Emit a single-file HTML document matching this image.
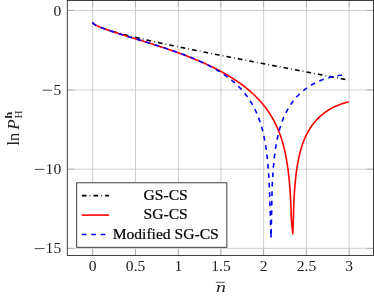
<!DOCTYPE html>
<html><head><meta charset="utf-8"><title>plot</title>
<style>
html,body{margin:0;padding:0;background:#fff;}
body{width:374px;height:297px;overflow:hidden;font-family:"Liberation Serif",serif;}
svg{display:block;filter:blur(0.35px);}
</style></head><body>
<svg width="374" height="297" viewBox="0 0 374 297">
<rect x="0" y="0" width="374" height="297" fill="#fff"/>
<g>
<g stroke="#c6c6c6" stroke-width="0.85" fill="none">
<line x1="92.65" y1="0.5" x2="92.65" y2="255.4"/>
<line x1="135.50" y1="0.5" x2="135.50" y2="255.4"/>
<line x1="178.35" y1="0.5" x2="178.35" y2="255.4"/>
<line x1="220.90" y1="0.5" x2="220.90" y2="255.4"/>
<line x1="263.60" y1="0.5" x2="263.60" y2="255.4"/>
<line x1="306.40" y1="0.5" x2="306.40" y2="255.4"/>
<line x1="349.10" y1="0.5" x2="349.10" y2="255.4"/>
<line x1="67.3" y1="10.46" x2="373.4" y2="10.46"/>
<line x1="67.3" y1="89.95" x2="373.4" y2="89.95"/>
<line x1="67.3" y1="169.15" x2="373.4" y2="169.15"/>
<line x1="67.3" y1="248.35" x2="373.4" y2="248.35"/>
</g>
<g stroke="#8c8c8c" stroke-width="0.5" fill="none">
<line x1="92.65" y1="255.4" x2="92.65" y2="248.70000000000002"/>
<line x1="92.65" y1="0.5" x2="92.65" y2="7.2"/>
<line x1="135.50" y1="255.4" x2="135.50" y2="248.70000000000002"/>
<line x1="135.50" y1="0.5" x2="135.50" y2="7.2"/>
<line x1="178.35" y1="255.4" x2="178.35" y2="248.70000000000002"/>
<line x1="178.35" y1="0.5" x2="178.35" y2="7.2"/>
<line x1="220.90" y1="255.4" x2="220.90" y2="248.70000000000002"/>
<line x1="220.90" y1="0.5" x2="220.90" y2="7.2"/>
<line x1="263.60" y1="255.4" x2="263.60" y2="248.70000000000002"/>
<line x1="263.60" y1="0.5" x2="263.60" y2="7.2"/>
<line x1="306.40" y1="255.4" x2="306.40" y2="248.70000000000002"/>
<line x1="306.40" y1="0.5" x2="306.40" y2="7.2"/>
<line x1="349.10" y1="255.4" x2="349.10" y2="248.70000000000002"/>
<line x1="349.10" y1="0.5" x2="349.10" y2="7.2"/>
<line x1="67.3" y1="10.46" x2="74.0" y2="10.46"/>
<line x1="373.4" y1="10.46" x2="366.7" y2="10.46"/>
<line x1="67.3" y1="89.95" x2="74.0" y2="89.95"/>
<line x1="373.4" y1="89.95" x2="366.7" y2="89.95"/>
<line x1="67.3" y1="169.15" x2="74.0" y2="169.15"/>
<line x1="373.4" y1="169.15" x2="366.7" y2="169.15"/>
<line x1="67.3" y1="248.35" x2="74.0" y2="248.35"/>
<line x1="373.4" y1="248.35" x2="366.7" y2="248.35"/>
</g>
<path d="M92.65,22.04 L92.91,22.87 L93.16,23.23 L93.42,23.52 L93.68,23.76 L93.93,23.98 L94.19,24.18 L94.45,24.36 L94.70,24.54 L94.96,24.71 L95.21,24.87 L95.47,25.02 L95.73,25.17 L95.98,25.31 L96.24,25.45 L96.50,25.58 L96.75,25.71 L97.01,25.84 L97.27,25.97 L97.52,26.09 L97.78,26.21 L98.04,26.33 L98.29,26.44 L98.55,26.55 L98.80,26.67 L99.06,26.78 L99.32,26.89 L99.57,26.99 L99.83,27.10 L100.09,27.20 L100.34,27.31 L100.60,27.41 L100.86,27.51 L101.11,27.61 L101.37,27.71 L101.63,27.80 L101.88,27.90 L102.14,28.00 L102.39,28.09 L102.65,28.19 L102.91,28.28 L103.16,28.37 L103.42,28.46 L103.68,28.55 L103.93,28.64 L104.19,28.73 L104.45,28.82 L104.70,28.91 L104.96,29.00 L105.22,29.09 L105.47,29.17 L105.73,29.26 L105.98,29.34 L106.24,29.43 L106.50,29.51 L106.75,29.60 L107.01,29.68 L107.27,29.76 L107.52,29.84 L107.78,29.93 L108.04,30.01 L108.29,30.09 L108.55,30.17 L108.81,30.25 L109.06,30.33 L109.32,30.41 L109.58,30.49 L109.83,30.57 L110.09,30.65 L110.34,30.72 L110.60,30.80 L110.86,30.88 L111.11,30.96 L111.37,31.03 L111.63,31.11 L111.88,31.19 L112.14,31.26 L112.40,31.34 L112.65,31.41 L112.91,31.49 L113.17,31.56 L113.42,31.64 L113.68,31.71 L113.93,31.78 L114.19,31.86 L114.45,31.93 L114.70,32.00 L114.96,32.08 L115.22,32.15 L115.47,32.22 L115.73,32.29 L115.99,32.37 L116.24,32.44 L116.50,32.51 L116.76,32.58 L117.01,32.65 L117.27,32.72 L117.52,32.79 L117.78,32.86 L118.04,32.93 L118.29,33.00 L118.55,33.07 L118.81,33.14 L119.06,33.21 L119.32,33.28 L119.58,33.35 L119.83,33.42 L120.09,33.49 L120.35,33.56 L120.60,33.62 L120.86,33.69 L121.11,33.76 L121.37,33.83 L121.63,33.90 L121.88,33.96 L122.14,34.03 L122.40,34.10 L122.65,34.16 L122.91,34.23 L123.17,34.30 L123.42,34.37 L123.68,34.43 L123.94,34.50 L124.19,34.56 L124.45,34.63 L124.71,34.70 L124.96,34.76 L125.22,34.83 L125.47,34.89 L125.73,34.96 L125.99,35.02 L126.24,35.09 L126.50,35.15 L126.76,35.22 L127.01,35.28 L127.27,35.35 L127.53,35.41 L127.78,35.48 L128.04,35.54 L128.30,35.60 L128.55,35.67 L128.81,35.73 L129.06,35.80 L129.32,35.86 L129.58,35.92 L129.83,35.99 L130.09,36.05 L130.35,36.11 L130.60,36.18 L130.86,36.24 L131.12,36.30 L131.37,36.37 L131.63,36.43 L131.89,36.49 L132.14,36.55 L132.40,36.62 L132.65,36.68 L132.91,36.74 L133.17,36.80 L133.42,36.86 L133.68,36.93 L133.94,36.99 L134.19,37.05 L134.45,37.11 L134.71,37.17 L134.96,37.23 L135.22,37.30 L135.48,37.36 L135.73,37.42 L135.99,37.48 L136.24,37.54 L136.50,37.60 L136.76,37.66 L137.01,37.72 L137.27,37.78 L137.53,37.85 L137.78,37.91 L138.04,37.97 L138.30,38.03 L138.55,38.09 L138.81,38.15 L139.07,38.21 L139.32,38.27 L139.58,38.33 L139.83,38.39 L140.09,38.45 L140.35,38.51 L140.60,38.57 L140.86,38.63 L141.12,38.69 L141.37,38.75 L141.63,38.81 L141.89,38.86 L142.14,38.92 L142.40,38.98 L142.66,39.04 L142.91,39.10 L143.17,39.16 L143.43,39.22 L143.68,39.28 L143.94,39.34 L144.19,39.40 L144.45,39.45 L144.71,39.51 L144.96,39.57 L145.22,39.63 L145.48,39.69 L145.73,39.75 L145.99,39.81 L146.25,39.86 L146.50,39.92 L146.76,39.98 L147.02,40.04 L147.27,40.10 L147.53,40.15 L147.78,40.21 L148.04,40.27 L148.30,40.33 L148.55,40.39 L148.81,40.44 L149.07,40.50 L149.32,40.56 L149.58,40.62 L149.84,40.67 L150.09,40.73 L150.35,40.79 L150.61,40.85 L150.86,40.90 L151.12,40.96 L151.37,41.02 L151.63,41.07 L151.89,41.13 L152.14,41.19 L152.40,41.25 L152.66,41.30 L152.91,41.36 L153.17,41.42 L153.43,41.47 L153.68,41.53 L153.94,41.59 L154.20,41.64 L154.45,41.70 L154.71,41.76 L154.96,41.81 L155.22,41.87 L155.48,41.93 L155.73,41.98 L155.99,42.04 L156.25,42.09 L156.50,42.15 L156.76,42.21 L157.02,42.26 L157.27,42.32 L157.53,42.38 L157.79,42.43 L158.04,42.49 L158.30,42.54 L158.56,42.60 L158.81,42.66 L159.07,42.71 L159.32,42.77 L159.58,42.82 L159.84,42.88 L160.09,42.93 L160.35,42.99 L160.61,43.04 L160.86,43.10 L161.12,43.16 L161.38,43.21 L161.63,43.27 L161.89,43.32 L162.15,43.38 L162.40,43.43 L162.66,43.49 L162.91,43.54 L163.17,43.60 L163.43,43.65 L163.68,43.71 L163.94,43.76 L164.20,43.82 L164.45,43.87 L164.71,43.93 L164.97,43.98 L165.22,44.04 L165.48,44.09 L165.74,44.15 L165.99,44.20 L166.25,44.26 L166.50,44.31 L166.76,44.37 L167.02,44.42 L167.27,44.48 L167.53,44.53 L167.79,44.59 L168.04,44.64 L168.30,44.69 L168.56,44.75 L168.81,44.80 L169.07,44.86 L169.33,44.91 L169.58,44.97 L169.84,45.02 L170.09,45.07 L170.35,45.13 L170.61,45.18 L170.86,45.24 L171.12,45.29 L171.38,45.35 L171.63,45.40 L171.89,45.45 L172.15,45.51 L172.40,45.56 L172.66,45.62 L172.92,45.67 L173.17,45.72 L173.43,45.78 L173.69,45.83 L173.94,45.88 L174.20,45.94 L174.45,45.99 L174.71,46.05 L174.97,46.10 L175.22,46.15 L175.48,46.21 L175.74,46.26 L175.99,46.31 L176.25,46.37 L176.51,46.42 L176.76,46.47 L177.02,46.53 L177.28,46.58 L177.53,46.64 L177.79,46.69 L178.04,46.74 L178.30,46.80 L178.56,46.85 L178.81,46.90 L179.07,46.96 L179.33,47.01 L179.58,47.06 L179.84,47.11 L180.10,47.17 L180.35,47.22 L180.61,47.27 L180.87,47.33 L181.12,47.38 L181.38,47.43 L181.63,47.49 L181.89,47.54 L182.15,47.59 L182.40,47.65 L182.66,47.70 L182.92,47.75 L183.17,47.80 L183.43,47.86 L183.69,47.91 L183.94,47.96 L184.20,48.02 L184.46,48.07 L184.71,48.12 L184.97,48.17 L185.22,48.23 L185.48,48.28 L185.74,48.33 L185.99,48.38 L186.25,48.44 L186.51,48.49 L186.76,48.54 L187.02,48.59 L187.28,48.65 L187.53,48.70 L187.79,48.75 L188.05,48.80 L188.30,48.86 L188.56,48.91 L188.81,48.96 L189.07,49.01 L189.33,49.07 L189.58,49.12 L189.84,49.17 L190.10,49.22 L190.35,49.28 L190.61,49.33 L190.87,49.38 L191.12,49.43 L191.38,49.48 L191.64,49.54 L191.89,49.59 L192.15,49.64 L192.41,49.69 L192.66,49.75 L192.92,49.80 L193.17,49.85 L193.43,49.90 L193.69,49.95 L193.94,50.01 L194.20,50.06 L194.46,50.11 L194.71,50.16 L194.97,50.21 L195.23,50.27 L195.48,50.32 L195.74,50.37 L196.00,50.42 L196.25,50.47 L196.51,50.53 L196.76,50.58 L197.02,50.63 L197.28,50.68 L197.53,50.73 L197.79,50.78 L198.05,50.84 L198.30,50.89 L198.56,50.94 L198.82,50.99 L199.07,51.04 L199.33,51.09 L199.59,51.15 L199.84,51.20 L200.10,51.25 L200.35,51.30 L200.61,51.35 L200.87,51.40 L201.12,51.46 L201.38,51.51 L201.64,51.56 L201.89,51.61 L202.15,51.66 L202.41,51.71 L202.66,51.76 L202.92,51.82 L203.18,51.87 L203.43,51.92 L203.69,51.97 L203.94,52.02 L204.20,52.07 L204.46,52.12 L204.71,52.18 L204.97,52.23 L205.23,52.28 L205.48,52.33 L205.74,52.38 L206.00,52.43 L206.25,52.48 L206.51,52.53 L206.77,52.59 L207.02,52.64 L207.28,52.69 L207.54,52.74 L207.79,52.79 L208.05,52.84 L208.30,52.89 L208.56,52.94 L208.82,53.00 L209.07,53.05 L209.33,53.10 L209.59,53.15 L209.84,53.20 L210.10,53.25 L210.36,53.30 L210.61,53.35 L210.87,53.40 L211.13,53.45 L211.38,53.51 L211.64,53.56 L211.89,53.61 L212.15,53.66 L212.41,53.71 L212.66,53.76 L212.92,53.81 L213.18,53.86 L213.43,53.91 L213.69,53.96 L213.95,54.01 L214.20,54.07 L214.46,54.12 L214.72,54.17 L214.97,54.22 L215.23,54.27 L215.48,54.32 L215.74,54.37 L216.00,54.42 L216.25,54.47 L216.51,54.52 L216.77,54.57 L217.02,54.62 L217.28,54.68 L217.54,54.73 L217.79,54.78 L218.05,54.83 L218.31,54.88 L218.56,54.93 L218.82,54.98 L219.07,55.03 L219.33,55.08 L219.59,55.13 L219.84,55.18 L220.10,55.23 L220.36,55.28 L220.61,55.33 L220.87,55.38 L221.13,55.43 L221.38,55.49 L221.64,55.54 L221.90,55.59 L222.15,55.64 L222.41,55.69 L222.67,55.74 L222.92,55.79 L223.18,55.84 L223.43,55.89 L223.69,55.94 L223.95,55.99 L224.20,56.04 L224.46,56.09 L224.72,56.14 L224.97,56.19 L225.23,56.24 L225.49,56.29 L225.74,56.34 L226.00,56.39 L226.26,56.44 L226.51,56.49 L226.77,56.54 L227.02,56.59 L227.28,56.65 L227.54,56.70 L227.79,56.75 L228.05,56.80 L228.31,56.85 L228.56,56.90 L228.82,56.95 L229.08,57.00 L229.33,57.05 L229.59,57.10 L229.85,57.15 L230.10,57.20 L230.36,57.25 L230.61,57.30 L230.87,57.35 L231.13,57.40 L231.38,57.45 L231.64,57.50 L231.90,57.55 L232.15,57.60 L232.41,57.65 L232.67,57.70 L232.92,57.75 L233.18,57.80 L233.44,57.85 L233.69,57.90 L233.95,57.95 L234.20,58.00 L234.46,58.05 L234.72,58.10 L234.97,58.15 L235.23,58.20 L235.49,58.25 L235.74,58.30 L236.00,58.35 L236.26,58.40 L236.51,58.45 L236.77,58.50 L237.03,58.55 L237.28,58.60 L237.54,58.65 L237.80,58.70 L238.05,58.75 L238.31,58.80 L238.56,58.85 L238.82,58.90 L239.08,58.95 L239.33,59.00 L239.59,59.05 L239.85,59.10 L240.10,59.15 L240.36,59.20 L240.62,59.25 L240.87,59.30 L241.13,59.35 L241.39,59.40 L241.64,59.45 L241.90,59.50 L242.15,59.55 L242.41,59.60 L242.67,59.65 L242.92,59.70 L243.18,59.75 L243.44,59.80 L243.69,59.85 L243.95,59.90 L244.21,59.95 L244.46,60.00 L244.72,60.05 L244.98,60.10 L245.23,60.15 L245.49,60.20 L245.74,60.25 L246.00,60.30 L246.26,60.35 L246.51,60.40 L246.77,60.45 L247.03,60.50 L247.28,60.55 L247.54,60.60 L247.80,60.65 L248.05,60.70 L248.31,60.75 L248.57,60.80 L248.82,60.85 L249.08,60.90 L249.33,60.95 L249.59,61.00 L249.85,61.05 L250.10,61.10 L250.36,61.14 L250.62,61.19 L250.87,61.24 L251.13,61.29 L251.39,61.34 L251.64,61.39 L251.90,61.44 L252.16,61.49 L252.41,61.54 L252.67,61.59 L252.93,61.64 L253.18,61.69 L253.44,61.74 L253.69,61.79 L253.95,61.84 L254.21,61.89 L254.46,61.94 L254.72,61.99 L254.98,62.04 L255.23,62.09 L255.49,62.14 L255.75,62.19 L256.00,62.24 L256.26,62.29 L256.52,62.34 L256.77,62.39 L257.03,62.44 L257.28,62.49 L257.54,62.54 L257.80,62.58 L258.05,62.63 L258.31,62.68 L258.57,62.73 L258.82,62.78 L259.08,62.83 L259.34,62.88 L259.59,62.93 L259.85,62.98 L260.11,63.03 L260.36,63.08 L260.62,63.13 L260.87,63.18 L261.13,63.23 L261.39,63.28 L261.64,63.33 L261.90,63.38 L262.16,63.43 L262.41,63.48 L262.67,63.53 L262.93,63.58 L263.18,63.63 L263.44,63.68 L263.70,63.72 L263.95,63.77 L264.21,63.82 L264.46,63.87 L264.72,63.92 L264.98,63.97 L265.23,64.02 L265.49,64.07 L265.75,64.12 L266.00,64.17 L266.26,64.22 L266.52,64.27 L266.77,64.32 L267.03,64.37 L267.29,64.42 L267.54,64.47 L267.80,64.52 L268.05,64.57 L268.31,64.62 L268.57,64.66 L268.82,64.71 L269.08,64.76 L269.34,64.81 L269.59,64.86 L269.85,64.91 L270.11,64.96 L270.36,65.01 L270.62,65.06 L270.88,65.11 L271.13,65.16 L271.39,65.21 L271.65,65.26 L271.90,65.31 L272.16,65.36 L272.41,65.41 L272.67,65.46 L272.93,65.51 L273.18,65.55 L273.44,65.60 L273.70,65.65 L273.95,65.70 L274.21,65.75 L274.47,65.80 L274.72,65.85 L274.98,65.90 L275.24,65.95 L275.49,66.00 L275.75,66.05 L276.00,66.10 L276.26,66.15 L276.52,66.20 L276.77,66.25 L277.03,66.30 L277.29,66.34 L277.54,66.39 L277.80,66.44 L278.06,66.49 L278.31,66.54 L278.57,66.59 L278.83,66.64 L279.08,66.69 L279.34,66.74 L279.59,66.79 L279.85,66.84 L280.11,66.89 L280.36,66.94 L280.62,66.99 L280.88,67.04 L281.13,67.09 L281.39,67.13 L281.65,67.18 L281.90,67.23 L282.16,67.28 L282.42,67.33 L282.67,67.38 L282.93,67.43 L283.18,67.48 L283.44,67.53 L283.70,67.58 L283.95,67.63 L284.21,67.68 L284.47,67.73 L284.72,67.78 L284.98,67.83 L285.24,67.87 L285.49,67.92 L285.75,67.97 L286.01,68.02 L286.26,68.07 L286.52,68.12 L286.78,68.17 L287.03,68.22 L287.29,68.27 L287.54,68.32 L287.80,68.37 L288.06,68.42 L288.31,68.47 L288.57,68.52 L288.83,68.57 L289.08,68.61 L289.34,68.66 L289.60,68.71 L289.85,68.76 L290.11,68.81 L290.37,68.86 L290.62,68.91 L290.88,68.96 L291.13,69.01 L291.39,69.06 L291.65,69.11 L291.90,69.16 L292.16,69.21 L292.42,69.26 L292.67,69.31 L292.93,69.35 L293.19,69.40 L293.44,69.45 L293.70,69.50 L293.96,69.55 L294.21,69.60 L294.47,69.65 L294.72,69.70 L294.98,69.75 L295.24,69.80 L295.49,69.85 L295.75,69.90 L296.01,69.95 L296.26,70.00 L296.52,70.04 L296.78,70.09 L297.03,70.14 L297.29,70.19 L297.55,70.24 L297.80,70.29 L298.06,70.34 L298.31,70.39 L298.57,70.44 L298.83,70.49 L299.08,70.54 L299.34,70.59 L299.60,70.64 L299.85,70.69 L300.11,70.74 L300.37,70.78 L300.62,70.83 L300.88,70.88 L301.14,70.93 L301.39,70.98 L301.65,71.03 L301.91,71.08 L302.16,71.13 L302.42,71.18 L302.67,71.23 L302.93,71.28 L303.19,71.33 L303.44,71.38 L303.70,71.43 L303.96,71.47 L304.21,71.52 L304.47,71.57 L304.73,71.62 L304.98,71.67 L305.24,71.72 L305.50,71.77 L305.75,71.82 L306.01,71.87 L306.26,71.92 L306.52,71.97 L306.78,72.02 L307.03,72.07 L307.29,72.12 L307.55,72.17 L307.80,72.21 L308.06,72.26 L308.32,72.31 L308.57,72.36 L308.83,72.41 L309.09,72.46 L309.34,72.51 L309.60,72.56 L309.85,72.61 L310.11,72.66 L310.37,72.71 L310.62,72.76 L310.88,72.81 L311.14,72.86 L311.39,72.91 L311.65,72.95 L311.91,73.00 L312.16,73.05 L312.42,73.10 L312.68,73.15 L312.93,73.20 L313.19,73.25 L313.44,73.30 L313.70,73.35 L313.96,73.40 L314.21,73.45 L314.47,73.50 L314.73,73.55 L314.98,73.60 L315.24,73.65 L315.50,73.69 L315.75,73.74 L316.01,73.79 L316.27,73.84 L316.52,73.89 L316.78,73.94 L317.04,73.99 L317.29,74.04 L317.55,74.09 L317.80,74.14 L318.06,74.19 L318.32,74.24 L318.57,74.29 L318.83,74.34 L319.09,74.39 L319.34,74.44 L319.60,74.48 L319.86,74.53 L320.11,74.58 L320.37,74.63 L320.63,74.68 L320.88,74.73 L321.14,74.78 L321.39,74.83 L321.65,74.88 L321.91,74.93 L322.16,74.98 L322.42,75.03 L322.68,75.08 L322.93,75.13 L323.19,75.18 L323.45,75.23 L323.70,75.28 L323.96,75.32 L324.22,75.37 L324.47,75.42 L324.73,75.47 L324.98,75.52 L325.24,75.57 L325.50,75.62 L325.75,75.67 L326.01,75.72 L326.27,75.77 L326.52,75.82 L326.78,75.87 L327.04,75.92 L327.29,75.97 L327.55,76.02 L327.81,76.07 L328.06,76.12 L328.32,76.16 L328.57,76.21 L328.83,76.26 L329.09,76.31 L329.34,76.36 L329.60,76.41 L329.86,76.46 L330.11,76.51 L330.37,76.56 L330.63,76.61 L330.88,76.66 L331.14,76.71 L331.40,76.76 L331.65,76.81 L331.91,76.86 L332.16,76.91 L332.42,76.96 L332.68,77.01 L332.93,77.06 L333.19,77.10 L333.45,77.15 L333.70,77.20 L333.96,77.25 L334.22,77.30 L334.47,77.35 L334.73,77.40 L334.99,77.45 L335.24,77.50 L335.50,77.55 L335.76,77.60 L336.01,77.65 L336.27,77.70 L336.52,77.75 L336.78,77.80 L337.04,77.85 L337.29,77.90 L337.55,77.95 L337.81,78.00 L338.06,78.05 L338.32,78.09 L338.58,78.14 L338.83,78.19 L339.09,78.24 L339.35,78.29 L339.60,78.34 L339.86,78.39 L340.11,78.44 L340.37,78.49 L340.63,78.54 L340.88,78.59 L341.14,78.64 L341.40,78.69 L341.65,78.74 L341.91,78.79 L342.17,78.84 L342.42,78.89 L342.68,78.94 L342.94,78.99 L343.19,79.04 L343.45,79.09 L343.70,79.14 L343.96,79.19 L344.22,79.24 L344.47,79.28 L344.73,79.33 L344.99,79.38 L345.24,79.43 L345.50,79.48 L345.76,79.53 L346.01,79.58 L346.27,79.63 L346.53,79.68 L346.78,79.73 L347.04,79.78 L347.29,79.83 L347.55,79.88 L347.81,79.93 L348.06,79.98 L348.32,80.03 L348.58,80.08" fill="none" stroke="#000" stroke-width="1.6" stroke-dasharray="4.7 3.1 0.75 3.1" stroke-dashoffset="0.7"/>
<path d="M92.65,22.53 L92.91,23.18 L93.16,23.47 L93.42,23.71 L93.68,23.92 L93.93,24.11 L94.19,24.29 L94.45,24.45 L94.70,24.61 L94.96,24.76 L95.21,24.90 L95.47,25.04 L95.73,25.18 L95.98,25.31 L96.24,25.44 L96.50,25.57 L96.75,25.69 L97.01,25.81 L97.27,25.93 L97.52,26.05 L97.78,26.17 L98.04,26.28 L98.29,26.39 L98.55,26.50 L98.80,26.61 L99.06,26.72 L99.32,26.83 L99.57,26.94 L99.83,27.04 L100.09,27.15 L100.34,27.25 L100.60,27.35 L100.86,27.45 L101.11,27.55 L101.37,27.65 L101.63,27.75 L101.88,27.85 L102.14,27.95 L102.39,28.05 L102.65,28.15 L102.91,28.24 L103.16,28.34 L103.42,28.43 L103.68,28.53 L103.93,28.62 L104.19,28.71 L104.45,28.81 L104.70,28.90 L104.96,28.99 L105.22,29.09 L105.47,29.18 L105.73,29.27 L105.98,29.36 L106.24,29.45 L106.50,29.54 L106.75,29.63 L107.01,29.72 L107.27,29.81 L107.52,29.90 L107.78,29.98 L108.04,30.07 L108.29,30.16 L108.55,30.25 L108.81,30.34 L109.06,30.42 L109.32,30.51 L109.58,30.60 L109.83,30.68 L110.09,30.77 L110.34,30.86 L110.60,30.94 L110.86,31.03 L111.11,31.11 L111.37,31.20 L111.63,31.28 L111.88,31.37 L112.14,31.45 L112.40,31.54 L112.65,31.62 L112.91,31.70 L113.17,31.79 L113.42,31.87 L113.68,31.96 L113.93,32.04 L114.19,32.12 L114.45,32.21 L114.70,32.29 L114.96,32.37 L115.22,32.45 L115.47,32.54 L115.73,32.62 L115.99,32.70 L116.24,32.78 L116.50,32.87 L116.76,32.95 L117.01,33.03 L117.27,33.11 L117.52,33.19 L117.78,33.28 L118.04,33.36 L118.29,33.44 L118.55,33.52 L118.81,33.60 L119.06,33.68 L119.32,33.76 L119.58,33.84 L119.83,33.92 L120.09,34.01 L120.35,34.09 L120.60,34.17 L120.86,34.25 L121.11,34.33 L121.37,34.41 L121.63,34.49 L121.88,34.57 L122.14,34.65 L122.40,34.73 L122.65,34.81 L122.91,34.89 L123.17,34.97 L123.42,35.05 L123.68,35.13 L123.94,35.21 L124.19,35.29 L124.45,35.37 L124.71,35.45 L124.96,35.53 L125.22,35.61 L125.47,35.69 L125.73,35.77 L125.99,35.85 L126.24,35.93 L126.50,36.01 L126.76,36.09 L127.01,36.16 L127.27,36.24 L127.53,36.32 L127.78,36.40 L128.04,36.48 L128.30,36.56 L128.55,36.64 L128.81,36.72 L129.06,36.80 L129.32,36.88 L129.58,36.96 L129.83,37.04 L130.09,37.12 L130.35,37.19 L130.60,37.27 L130.86,37.35 L131.12,37.43 L131.37,37.51 L131.63,37.59 L131.89,37.67 L132.14,37.75 L132.40,37.83 L132.65,37.91 L132.91,37.99 L133.17,38.06 L133.42,38.14 L133.68,38.22 L133.94,38.30 L134.19,38.38 L134.45,38.46 L134.71,38.54 L134.96,38.62 L135.22,38.70 L135.48,38.78 L135.73,38.86 L135.99,38.93 L136.24,39.01 L136.50,39.09 L136.76,39.17 L137.01,39.25 L137.27,39.33 L137.53,39.41 L137.78,39.49 L138.04,39.57 L138.30,39.65 L138.55,39.73 L138.81,39.81 L139.07,39.89 L139.32,39.97 L139.58,40.04 L139.83,40.12 L140.09,40.20 L140.35,40.28 L140.60,40.36 L140.86,40.44 L141.12,40.52 L141.37,40.60 L141.63,40.68 L141.89,40.76 L142.14,40.84 L142.40,40.92 L142.66,41.00 L142.91,41.08 L143.17,41.16 L143.43,41.24 L143.68,41.32 L143.94,41.40 L144.19,41.48 L144.45,41.56 L144.71,41.64 L144.96,41.72 L145.22,41.80 L145.48,41.88 L145.73,41.96 L145.99,42.04 L146.25,42.12 L146.50,42.20 L146.76,42.28 L147.02,42.36 L147.27,42.44 L147.53,42.52 L147.78,42.60 L148.04,42.69 L148.30,42.77 L148.55,42.85 L148.81,42.93 L149.07,43.01 L149.32,43.09 L149.58,43.17 L149.84,43.25 L150.09,43.33 L150.35,43.41 L150.61,43.50 L150.86,43.58 L151.12,43.66 L151.37,43.74 L151.63,43.82 L151.89,43.90 L152.14,43.99 L152.40,44.07 L152.66,44.15 L152.91,44.23 L153.17,44.31 L153.43,44.40 L153.68,44.48 L153.94,44.56 L154.20,44.64 L154.45,44.72 L154.71,44.81 L154.96,44.89 L155.22,44.97 L155.48,45.05 L155.73,45.14 L155.99,45.22 L156.25,45.30 L156.50,45.39 L156.76,45.47 L157.02,45.55 L157.27,45.64 L157.53,45.72 L157.79,45.80 L158.04,45.89 L158.30,45.97 L158.56,46.05 L158.81,46.14 L159.07,46.22 L159.32,46.30 L159.58,46.39 L159.84,46.47 L160.09,46.56 L160.35,46.64 L160.61,46.73 L160.86,46.81 L161.12,46.89 L161.38,46.98 L161.63,47.06 L161.89,47.15 L162.15,47.23 L162.40,47.32 L162.66,47.40 L162.91,47.49 L163.17,47.57 L163.43,47.66 L163.68,47.75 L163.94,47.83 L164.20,47.92 L164.45,48.00 L164.71,48.09 L164.97,48.18 L165.22,48.26 L165.48,48.35 L165.74,48.43 L165.99,48.52 L166.25,48.61 L166.50,48.69 L166.76,48.78 L167.02,48.87 L167.27,48.96 L167.53,49.04 L167.79,49.13 L168.04,49.22 L168.30,49.30 L168.56,49.39 L168.81,49.48 L169.07,49.57 L169.33,49.66 L169.58,49.74 L169.84,49.83 L170.09,49.92 L170.35,50.01 L170.61,50.10 L170.86,50.19 L171.12,50.28 L171.38,50.37 L171.63,50.45 L171.89,50.54 L172.15,50.63 L172.40,50.72 L172.66,50.81 L172.92,50.90 L173.17,50.99 L173.43,51.08 L173.69,51.17 L173.94,51.26 L174.20,51.35 L174.45,51.44 L174.71,51.54 L174.97,51.63 L175.22,51.72 L175.48,51.81 L175.74,51.90 L175.99,51.99 L176.25,52.08 L176.51,52.18 L176.76,52.27 L177.02,52.36 L177.28,52.45 L177.53,52.54 L177.79,52.64 L178.04,52.73 L178.30,52.82 L178.56,52.92 L178.81,53.01 L179.07,53.10 L179.33,53.20 L179.58,53.29 L179.84,53.38 L180.10,53.48 L180.35,53.57 L180.61,53.67 L180.87,53.76 L181.12,53.86 L181.38,53.95 L181.63,54.05 L181.89,54.14 L182.15,54.24 L182.40,54.33 L182.66,54.43 L182.92,54.52 L183.17,54.62 L183.43,54.72 L183.69,54.81 L183.94,54.91 L184.20,55.01 L184.46,55.10 L184.71,55.20 L184.97,55.30 L185.22,55.39 L185.48,55.49 L185.74,55.59 L185.99,55.69 L186.25,55.79 L186.51,55.89 L186.76,55.98 L187.02,56.08 L187.28,56.18 L187.53,56.28 L187.79,56.38 L188.05,56.48 L188.30,56.58 L188.56,56.68 L188.81,56.78 L189.07,56.88 L189.33,56.98 L189.58,57.08 L189.84,57.18 L190.10,57.28 L190.35,57.39 L190.61,57.49 L190.87,57.59 L191.12,57.69 L191.38,57.79 L191.64,57.90 L191.89,58.00 L192.15,58.10 L192.41,58.20 L192.66,58.31 L192.92,58.41 L193.17,58.52 L193.43,58.62 L193.69,58.72 L193.94,58.83 L194.20,58.93 L194.46,59.04 L194.71,59.14 L194.97,59.25 L195.23,59.35 L195.48,59.46 L195.74,59.57 L196.00,59.67 L196.25,59.78 L196.51,59.89 L196.76,59.99 L197.02,60.10 L197.28,60.21 L197.53,60.32 L197.79,60.42 L198.05,60.53 L198.30,60.64 L198.56,60.75 L198.82,60.86 L199.07,60.97 L199.33,61.08 L199.59,61.19 L199.84,61.30 L200.10,61.41 L200.35,61.52 L200.61,61.63 L200.87,61.74 L201.12,61.85 L201.38,61.96 L201.64,62.08 L201.89,62.19 L202.15,62.30 L202.41,62.41 L202.66,62.53 L202.92,62.64 L203.18,62.75 L203.43,62.87 L203.69,62.98 L203.94,63.10 L204.20,63.21 L204.46,63.33 L204.71,63.44 L204.97,63.56 L205.23,63.67 L205.48,63.79 L205.74,63.91 L206.00,64.02 L206.25,64.14 L206.51,64.26 L206.77,64.37 L207.02,64.49 L207.28,64.61 L207.54,64.73 L207.79,64.85 L208.05,64.97 L208.30,65.09 L208.56,65.21 L208.82,65.33 L209.07,65.45 L209.33,65.57 L209.59,65.69 L209.84,65.81 L210.10,65.93 L210.36,66.06 L210.61,66.18 L210.87,66.30 L211.13,66.43 L211.38,66.55 L211.64,66.67 L211.89,66.80 L212.15,66.92 L212.41,67.05 L212.66,67.17 L212.92,67.30 L213.18,67.43 L213.43,67.55 L213.69,67.68 L213.95,67.81 L214.20,67.93 L214.46,68.06 L214.72,68.19 L214.97,68.32 L215.23,68.45 L215.48,68.58 L215.74,68.71 L216.00,68.84 L216.25,68.97 L216.51,69.10 L216.77,69.23 L217.02,69.36 L217.28,69.50 L217.54,69.63 L217.79,69.76 L218.05,69.90 L218.31,70.03 L218.56,70.16 L218.82,70.30 L219.07,70.43 L219.33,70.57 L219.59,70.71 L219.84,70.84 L220.10,70.98 L220.36,71.12 L220.61,71.25 L220.87,71.39 L221.13,71.53 L221.38,71.67 L221.64,71.81 L221.90,71.95 L222.15,72.09 L222.41,72.23 L222.67,72.37 L222.92,72.51 L223.18,72.66 L223.43,72.80 L223.69,72.94 L223.95,73.09 L224.20,73.23 L224.46,73.38 L224.72,73.52 L224.97,73.67 L225.23,73.81 L225.49,73.96 L225.74,74.11 L226.00,74.26 L226.26,74.40 L226.51,74.55 L226.77,74.70 L227.02,74.85 L227.28,75.00 L227.54,75.15 L227.79,75.31 L228.05,75.46 L228.31,75.61 L228.56,75.76 L228.82,75.92 L229.08,76.07 L229.33,76.23 L229.59,76.38 L229.85,76.54 L230.10,76.70 L230.36,76.85 L230.61,77.01 L230.87,77.17 L231.13,77.33 L231.38,77.49 L231.64,77.65 L231.90,77.81 L232.15,77.97 L232.41,78.13 L232.67,78.30 L232.92,78.46 L233.18,78.62 L233.44,78.79 L233.69,78.95 L233.95,79.12 L234.20,79.29 L234.46,79.45 L234.72,79.62 L234.97,79.79 L235.23,79.96 L235.49,80.13 L235.74,80.30 L236.00,80.47 L236.26,80.64 L236.51,80.82 L236.77,80.99 L237.03,81.17 L237.28,81.34 L237.54,81.52 L237.80,81.69 L238.05,81.87 L238.31,82.05 L238.56,82.23 L238.82,82.41 L239.08,82.59 L239.33,82.77 L239.59,82.95 L239.85,83.14 L240.10,83.32 L240.36,83.50 L240.62,83.69 L240.87,83.88 L241.13,84.06 L241.39,84.25 L241.64,84.44 L241.90,84.63 L242.15,84.82 L242.41,85.01 L242.67,85.20 L242.92,85.40 L243.18,85.59 L243.44,85.79 L243.69,85.98 L243.95,86.18 L244.21,86.38 L244.46,86.58 L244.72,86.78 L244.98,86.98 L245.23,87.18 L245.49,87.38 L245.74,87.59 L246.00,87.79 L246.26,88.00 L246.51,88.20 L246.77,88.41 L247.03,88.62 L247.28,88.83 L247.54,89.04 L247.80,89.26 L248.05,89.47 L248.31,89.68 L248.57,89.90 L248.82,90.12 L249.08,90.34 L249.33,90.55 L249.59,90.78 L249.85,91.00 L250.10,91.22 L250.36,91.44 L250.62,91.67 L250.87,91.90 L251.13,92.12 L251.39,92.35 L251.64,92.58 L251.90,92.82 L252.16,93.05 L252.41,93.29 L252.67,93.52 L252.93,93.76 L253.18,94.00 L253.44,94.24 L253.69,94.48 L253.95,94.72 L254.21,94.97 L254.46,95.22 L254.72,95.46 L254.98,95.71 L255.23,95.96 L255.49,96.22 L255.75,96.47 L256.00,96.73 L256.26,96.98 L256.52,97.24 L256.77,97.50 L257.03,97.77 L257.28,98.03 L257.54,98.30 L257.80,98.57 L258.05,98.84 L258.31,99.11 L258.57,99.38 L258.82,99.66 L259.08,99.93 L259.34,100.21 L259.59,100.49 L259.85,100.78 L260.11,101.06 L260.36,101.35 L260.62,101.64 L260.87,101.93 L261.13,102.23 L261.39,102.52 L261.64,102.82 L261.90,103.12 L262.16,103.43 L262.41,103.73 L262.67,104.04 L262.93,104.35 L263.18,104.66 L263.44,104.98 L263.70,105.30 L263.95,105.62 L264.21,105.94 L264.46,106.27 L264.72,106.60 L264.98,106.93 L265.23,107.26 L265.49,107.60 L265.75,107.94 L266.00,108.29 L266.26,108.63 L266.52,108.98 L266.77,109.34 L267.03,109.69 L267.29,110.05 L267.54,110.42 L267.80,110.78 L268.05,111.15 L268.31,111.53 L268.57,111.91 L268.82,112.29 L269.08,112.67 L269.34,113.06 L269.59,113.46 L269.85,113.85 L270.11,114.26 L270.36,114.66 L270.62,115.07 L270.88,115.49 L271.13,115.91 L271.39,116.33 L271.65,116.76 L271.90,117.20 L272.16,117.64 L272.41,118.08 L272.67,118.53 L272.93,118.99 L273.18,119.45 L273.44,119.92 L273.70,120.39 L273.95,120.87 L274.21,121.35 L274.47,121.85 L274.72,122.35 L274.98,122.85 L275.24,123.36 L275.49,123.88 L275.75,124.41 L276.00,124.95 L276.26,125.49 L276.52,126.04 L276.77,126.60 L277.03,127.17 L277.29,127.75 L277.54,128.34 L277.80,128.93 L278.06,129.54 L278.31,130.16 L278.57,130.79 L278.83,131.43 L279.08,132.08 L279.34,132.74 L279.59,133.42 L279.85,134.11 L280.11,134.81 L280.36,135.53 L280.62,136.26 L280.88,137.00 L281.13,137.77 L281.39,138.55 L281.65,139.35 L281.90,140.16 L282.16,141.00 L282.42,141.85 L282.67,142.73 L282.93,143.63 L283.18,144.56 L283.44,145.51 L283.70,146.49 L283.95,147.49 L284.21,148.53 L284.47,149.60 L284.72,150.70 L284.98,151.84 L285.24,153.02 L285.49,154.24 L285.75,155.50 L286.01,156.82 L286.26,158.19 L286.52,159.61 L286.78,161.10 L287.03,162.66 L287.29,164.30 L287.54,166.02 L287.80,167.83 L288.06,169.75 L288.31,171.78 L288.57,173.95 L288.83,176.27 L289.08,178.77 L289.34,181.47 L289.60,184.42 L289.85,187.66 L290.11,191.26 L290.37,195.30 L290.62,199.93 L290.88,205.33 L291.13,211.82 L291.39,219.96 L292.80,234.30 L293.96,199.94 L294.21,195.49 L294.47,191.60 L294.72,188.14 L294.98,185.03 L295.24,182.21 L295.49,179.62 L295.75,177.24 L296.01,175.03 L296.26,172.97 L296.52,171.04 L296.78,169.23 L297.03,167.52 L297.29,165.90 L297.55,164.37 L297.80,162.91 L298.06,161.52 L298.31,160.20 L298.57,158.93 L298.83,157.71 L299.08,156.54 L299.34,155.42 L299.60,154.34 L299.85,153.29 L300.11,152.29 L300.37,151.32 L300.62,150.38 L300.88,149.47 L301.14,148.59 L301.39,147.73 L301.65,146.90 L301.91,146.10 L302.16,145.31 L302.42,144.55 L302.67,143.81 L302.93,143.09 L303.19,142.39 L303.44,141.70 L303.70,141.03 L303.96,140.38 L304.21,139.75 L304.47,139.12 L304.73,138.51 L304.98,137.92 L305.24,137.34 L305.50,136.77 L305.75,136.21 L306.01,135.67 L306.26,135.13 L306.52,134.61 L306.78,134.10 L307.03,133.60 L307.29,133.10 L307.55,132.62 L307.80,132.15 L308.06,131.68 L308.32,131.22 L308.57,130.77 L308.83,130.33 L309.09,129.90 L309.34,129.47 L309.60,129.06 L309.85,128.64 L310.11,128.24 L310.37,127.84 L310.62,127.45 L310.88,127.07 L311.14,126.69 L311.39,126.32 L311.65,125.95 L311.91,125.59 L312.16,125.23 L312.42,124.88 L312.68,124.54 L312.93,124.20 L313.19,123.86 L313.44,123.53 L313.70,123.21 L313.96,122.89 L314.21,122.57 L314.47,122.26 L314.73,121.95 L314.98,121.65 L315.24,121.35 L315.50,121.06 L315.75,120.77 L316.01,120.48 L316.27,120.20 L316.52,119.92 L316.78,119.65 L317.04,119.38 L317.29,119.11 L317.55,118.84 L317.80,118.58 L318.06,118.33 L318.32,118.07 L318.57,117.82 L318.83,117.57 L319.09,117.33 L319.34,117.09 L319.60,116.85 L319.86,116.61 L320.11,116.38 L320.37,116.15 L320.63,115.92 L320.88,115.70 L321.14,115.48 L321.39,115.26 L321.65,115.04 L321.91,114.83 L322.16,114.62 L322.42,114.41 L322.68,114.20 L322.93,114.00 L323.19,113.79 L323.45,113.60 L323.70,113.40 L323.96,113.20 L324.22,113.01 L324.47,112.82 L324.73,112.63 L324.98,112.45 L325.24,112.26 L325.50,112.08 L325.75,111.90 L326.01,111.72 L326.27,111.55 L326.52,111.38 L326.78,111.20 L327.04,111.03 L327.29,110.87 L327.55,110.70 L327.81,110.54 L328.06,110.37 L328.32,110.21 L328.57,110.05 L328.83,109.90 L329.09,109.74 L329.34,109.59 L329.60,109.44 L329.86,109.29 L330.11,109.14 L330.37,108.99 L330.63,108.84 L330.88,108.70 L331.14,108.56 L331.40,108.42 L331.65,108.28 L331.91,108.14 L332.16,108.00 L332.42,107.87 L332.68,107.74 L332.93,107.60 L333.19,107.47 L333.45,107.35 L333.70,107.22 L333.96,107.09 L334.22,106.97 L334.47,106.84 L334.73,106.72 L334.99,106.60 L335.24,106.48 L335.50,106.36 L335.76,106.25 L336.01,106.13 L336.27,106.02 L336.52,105.90 L336.78,105.79 L337.04,105.68 L337.29,105.57 L337.55,105.46 L337.81,105.36 L338.06,105.25 L338.32,105.15 L338.58,105.04 L338.83,104.94 L339.09,104.84 L339.35,104.74 L339.60,104.64 L339.86,104.54 L340.11,104.45 L340.37,104.35 L340.63,104.26 L340.88,104.16 L341.14,104.07 L341.40,103.98 L341.65,103.89 L341.91,103.80 L342.17,103.71 L342.42,103.63 L342.68,103.54 L342.94,103.45 L343.19,103.37 L343.45,103.29 L343.70,103.20 L343.96,103.12 L344.22,103.04 L344.47,102.96 L344.73,102.89 L344.99,102.81 L345.24,102.73 L345.50,102.66 L345.76,102.58 L346.01,102.51 L346.27,102.44 L346.53,102.36 L346.78,102.29 L347.04,102.22 L347.29,102.15 L347.55,102.09 L347.81,102.02 L348.06,101.95 L348.32,101.89 L348.58,101.82" fill="none" stroke="#ff0000" stroke-width="1.6" stroke-linejoin="miter" stroke-miterlimit="10"/>
<path d="M92.65,22.66 L92.91,23.23 L93.16,23.51 L93.42,23.73 L93.68,23.92 L93.93,24.10 L94.19,24.27 L94.45,24.43 L94.70,24.58 L94.96,24.73 L95.21,24.87 L95.47,25.00 L95.73,25.14 L95.98,25.26 L96.24,25.39 L96.50,25.52 L96.75,25.64 L97.01,25.76 L97.27,25.88 L97.52,25.99 L97.78,26.11 L98.04,26.22 L98.29,26.33 L98.55,26.45 L98.80,26.56 L99.06,26.66 L99.32,26.77 L99.57,26.88 L99.83,26.98 L100.09,27.09 L100.34,27.19 L100.60,27.30 L100.86,27.40 L101.11,27.50 L101.37,27.60 L101.63,27.70 L101.88,27.80 L102.14,27.90 L102.39,28.00 L102.65,28.10 L102.91,28.19 L103.16,28.29 L103.42,28.39 L103.68,28.48 L103.93,28.58 L104.19,28.67 L104.45,28.77 L104.70,28.86 L104.96,28.96 L105.22,29.05 L105.47,29.14 L105.73,29.24 L105.98,29.33 L106.24,29.42 L106.50,29.51 L106.75,29.60 L107.01,29.69 L107.27,29.79 L107.52,29.88 L107.78,29.97 L108.04,30.06 L108.29,30.15 L108.55,30.23 L108.81,30.32 L109.06,30.41 L109.32,30.50 L109.58,30.59 L109.83,30.68 L110.09,30.77 L110.34,30.85 L110.60,30.94 L110.86,31.03 L111.11,31.11 L111.37,31.20 L111.63,31.29 L111.88,31.37 L112.14,31.46 L112.40,31.55 L112.65,31.63 L112.91,31.72 L113.17,31.80 L113.42,31.89 L113.68,31.97 L113.93,32.06 L114.19,32.14 L114.45,32.23 L114.70,32.31 L114.96,32.40 L115.22,32.48 L115.47,32.57 L115.73,32.65 L115.99,32.73 L116.24,32.82 L116.50,32.90 L116.76,32.98 L117.01,33.07 L117.27,33.15 L117.52,33.23 L117.78,33.32 L118.04,33.40 L118.29,33.48 L118.55,33.56 L118.81,33.65 L119.06,33.73 L119.32,33.81 L119.58,33.89 L119.83,33.97 L120.09,34.06 L120.35,34.14 L120.60,34.22 L120.86,34.30 L121.11,34.38 L121.37,34.46 L121.63,34.55 L121.88,34.63 L122.14,34.71 L122.40,34.79 L122.65,34.87 L122.91,34.95 L123.17,35.03 L123.42,35.11 L123.68,35.19 L123.94,35.27 L124.19,35.35 L124.45,35.44 L124.71,35.52 L124.96,35.60 L125.22,35.68 L125.47,35.76 L125.73,35.84 L125.99,35.92 L126.24,36.00 L126.50,36.08 L126.76,36.16 L127.01,36.24 L127.27,36.32 L127.53,36.40 L127.78,36.48 L128.04,36.56 L128.30,36.63 L128.55,36.71 L128.81,36.79 L129.06,36.87 L129.32,36.95 L129.58,37.03 L129.83,37.11 L130.09,37.19 L130.35,37.27 L130.60,37.35 L130.86,37.43 L131.12,37.51 L131.37,37.59 L131.63,37.67 L131.89,37.75 L132.14,37.82 L132.40,37.90 L132.65,37.98 L132.91,38.06 L133.17,38.14 L133.42,38.22 L133.68,38.30 L133.94,38.38 L134.19,38.46 L134.45,38.53 L134.71,38.61 L134.96,38.69 L135.22,38.77 L135.48,38.85 L135.73,38.93 L135.99,39.01 L136.24,39.09 L136.50,39.16 L136.76,39.24 L137.01,39.32 L137.27,39.40 L137.53,39.48 L137.78,39.56 L138.04,39.64 L138.30,39.72 L138.55,39.79 L138.81,39.87 L139.07,39.95 L139.32,40.03 L139.58,40.11 L139.83,40.19 L140.09,40.27 L140.35,40.34 L140.60,40.42 L140.86,40.50 L141.12,40.58 L141.37,40.66 L141.63,40.74 L141.89,40.82 L142.14,40.90 L142.40,40.97 L142.66,41.05 L142.91,41.13 L143.17,41.21 L143.43,41.29 L143.68,41.37 L143.94,41.45 L144.19,41.53 L144.45,41.60 L144.71,41.68 L144.96,41.76 L145.22,41.84 L145.48,41.92 L145.73,42.00 L145.99,42.08 L146.25,42.16 L146.50,42.24 L146.76,42.32 L147.02,42.40 L147.27,42.47 L147.53,42.55 L147.78,42.63 L148.04,42.71 L148.30,42.79 L148.55,42.87 L148.81,42.95 L149.07,43.03 L149.32,43.11 L149.58,43.19 L149.84,43.27 L150.09,43.35 L150.35,43.43 L150.61,43.51 L150.86,43.59 L151.12,43.67 L151.37,43.75 L151.63,43.83 L151.89,43.91 L152.14,43.99 L152.40,44.07 L152.66,44.15 L152.91,44.23 L153.17,44.31 L153.43,44.39 L153.68,44.47 L153.94,44.55 L154.20,44.63 L154.45,44.71 L154.71,44.79 L154.96,44.87 L155.22,44.95 L155.48,45.03 L155.73,45.11 L155.99,45.19 L156.25,45.27 L156.50,45.36 L156.76,45.44 L157.02,45.52 L157.27,45.60 L157.53,45.68 L157.79,45.76 L158.04,45.84 L158.30,45.93 L158.56,46.01 L158.81,46.09 L159.07,46.17 L159.32,46.25 L159.58,46.33 L159.84,46.42 L160.09,46.50 L160.35,46.58 L160.61,46.66 L160.86,46.75 L161.12,46.83 L161.38,46.91 L161.63,46.99 L161.89,47.08 L162.15,47.16 L162.40,47.24 L162.66,47.33 L162.91,47.41 L163.17,47.49 L163.43,47.58 L163.68,47.66 L163.94,47.74 L164.20,47.83 L164.45,47.91 L164.71,47.99 L164.97,48.08 L165.22,48.16 L165.48,48.25 L165.74,48.33 L165.99,48.42 L166.25,48.50 L166.50,48.59 L166.76,48.67 L167.02,48.76 L167.27,48.84 L167.53,48.93 L167.79,49.01 L168.04,49.10 L168.30,49.18 L168.56,49.27 L168.81,49.35 L169.07,49.44 L169.33,49.53 L169.58,49.61 L169.84,49.70 L170.09,49.79 L170.35,49.87 L170.61,49.96 L170.86,50.05 L171.12,50.13 L171.38,50.22 L171.63,50.31 L171.89,50.40 L172.15,50.48 L172.40,50.57 L172.66,50.66 L172.92,50.75 L173.17,50.84 L173.43,50.92 L173.69,51.01 L173.94,51.10 L174.20,51.19 L174.45,51.28 L174.71,51.37 L174.97,51.46 L175.22,51.55 L175.48,51.64 L175.74,51.73 L175.99,51.82 L176.25,51.91 L176.51,52.00 L176.76,52.09 L177.02,52.18 L177.28,52.27 L177.53,52.36 L177.79,52.45 L178.04,52.55 L178.30,52.64 L178.56,52.73 L178.81,52.82 L179.07,52.91 L179.33,53.01 L179.58,53.10 L179.84,53.19 L180.10,53.28 L180.35,53.38 L180.61,53.47 L180.87,53.57 L181.12,53.66 L181.38,53.75 L181.63,53.85 L181.89,53.94 L182.15,54.04 L182.40,54.13 L182.66,54.23 L182.92,54.32 L183.17,54.42 L183.43,54.51 L183.69,54.61 L183.94,54.71 L184.20,54.80 L184.46,54.90 L184.71,55.00 L184.97,55.09 L185.22,55.19 L185.48,55.29 L185.74,55.39 L185.99,55.49 L186.25,55.59 L186.51,55.68 L186.76,55.78 L187.02,55.88 L187.28,55.98 L187.53,56.08 L187.79,56.18 L188.05,56.28 L188.30,56.38 L188.56,56.48 L188.81,56.58 L189.07,56.69 L189.33,56.79 L189.58,56.89 L189.84,56.99 L190.10,57.09 L190.35,57.20 L190.61,57.30 L190.87,57.40 L191.12,57.51 L191.38,57.61 L191.64,57.72 L191.89,57.82 L192.15,57.92 L192.41,58.03 L192.66,58.14 L192.92,58.24 L193.17,58.35 L193.43,58.45 L193.69,58.56 L193.94,58.67 L194.20,58.77 L194.46,58.88 L194.71,58.99 L194.97,59.10 L195.23,59.21 L195.48,59.32 L195.74,59.43 L196.00,59.54 L196.25,59.65 L196.51,59.76 L196.76,59.87 L197.02,59.98 L197.28,60.09 L197.53,60.20 L197.79,60.31 L198.05,60.43 L198.30,60.54 L198.56,60.65 L198.82,60.77 L199.07,60.88 L199.33,60.99 L199.59,61.11 L199.84,61.23 L200.10,61.34 L200.35,61.46 L200.61,61.57 L200.87,61.69 L201.12,61.81 L201.38,61.93 L201.64,62.04 L201.89,62.16 L202.15,62.28 L202.41,62.40 L202.66,62.52 L202.92,62.64 L203.18,62.76 L203.43,62.88 L203.69,63.00 L203.94,63.13 L204.20,63.25 L204.46,63.37 L204.71,63.49 L204.97,63.62 L205.23,63.74 L205.48,63.87 L205.74,63.99 L206.00,64.12 L206.25,64.25 L206.51,64.37 L206.77,64.50 L207.02,64.63 L207.28,64.76 L207.54,64.88 L207.79,65.01 L208.05,65.14 L208.30,65.27 L208.56,65.40 L208.82,65.54 L209.07,65.67 L209.33,65.80 L209.59,65.93 L209.84,66.07 L210.10,66.20 L210.36,66.34 L210.61,66.47 L210.87,66.61 L211.13,66.74 L211.38,66.88 L211.64,67.02 L211.89,67.16 L212.15,67.30 L212.41,67.44 L212.66,67.58 L212.92,67.72 L213.18,67.86 L213.43,68.00 L213.69,68.14 L213.95,68.29 L214.20,68.43 L214.46,68.57 L214.72,68.72 L214.97,68.86 L215.23,69.01 L215.48,69.16 L215.74,69.31 L216.00,69.46 L216.25,69.60 L216.51,69.75 L216.77,69.91 L217.02,70.06 L217.28,70.21 L217.54,70.36 L217.79,70.52 L218.05,70.67 L218.31,70.83 L218.56,70.98 L218.82,71.14 L219.07,71.30 L219.33,71.46 L219.59,71.61 L219.84,71.77 L220.10,71.94 L220.36,72.10 L220.61,72.26 L220.87,72.42 L221.13,72.59 L221.38,72.75 L221.64,72.92 L221.90,73.09 L222.15,73.25 L222.41,73.42 L222.67,73.59 L222.92,73.76 L223.18,73.93 L223.43,74.11 L223.69,74.28 L223.95,74.45 L224.20,74.63 L224.46,74.81 L224.72,74.98 L224.97,75.16 L225.23,75.34 L225.49,75.52 L225.74,75.70 L226.00,75.89 L226.26,76.07 L226.51,76.25 L226.77,76.44 L227.02,76.63 L227.28,76.81 L227.54,77.00 L227.79,77.19 L228.05,77.38 L228.31,77.58 L228.56,77.77 L228.82,77.97 L229.08,78.16 L229.33,78.36 L229.59,78.56 L229.85,78.76 L230.10,78.96 L230.36,79.16 L230.61,79.37 L230.87,79.57 L231.13,79.78 L231.38,79.99 L231.64,80.20 L231.90,80.41 L232.15,80.62 L232.41,80.83 L232.67,81.05 L232.92,81.26 L233.18,81.48 L233.44,81.70 L233.69,81.92 L233.95,82.15 L234.20,82.37 L234.46,82.60 L234.72,82.82 L234.97,83.05 L235.23,83.28 L235.49,83.52 L235.74,83.75 L236.00,83.99 L236.26,84.22 L236.51,84.46 L236.77,84.71 L237.03,84.95 L237.28,85.19 L237.54,85.44 L237.80,85.69 L238.05,85.94 L238.31,86.20 L238.56,86.45 L238.82,86.71 L239.08,86.97 L239.33,87.23 L239.59,87.49 L239.85,87.76 L240.10,88.03 L240.36,88.30 L240.62,88.57 L240.87,88.84 L241.13,89.12 L241.39,89.40 L241.64,89.68 L241.90,89.97 L242.15,90.26 L242.41,90.55 L242.67,90.84 L242.92,91.13 L243.18,91.43 L243.44,91.73 L243.69,92.04 L243.95,92.34 L244.21,92.65 L244.46,92.97 L244.72,93.28 L244.98,93.60 L245.23,93.92 L245.49,94.25 L245.74,94.58 L246.00,94.91 L246.26,95.25 L246.51,95.59 L246.77,95.93 L247.03,96.27 L247.28,96.63 L247.54,96.98 L247.80,97.34 L248.05,97.70 L248.31,98.07 L248.57,98.44 L248.82,98.81 L249.08,99.19 L249.33,99.58 L249.59,99.96 L249.85,100.36 L250.10,100.75 L250.36,101.16 L250.62,101.57 L250.87,101.98 L251.13,102.40 L251.39,102.82 L251.64,103.25 L251.90,103.69 L252.16,104.13 L252.41,104.58 L252.67,105.03 L252.93,105.49 L253.18,105.96 L253.44,106.43 L253.69,106.91 L253.95,107.40 L254.21,107.90 L254.46,108.40 L254.72,108.91 L254.98,109.43 L255.23,109.96 L255.49,110.50 L255.75,111.04 L256.00,111.60 L256.26,112.16 L256.52,112.74 L256.77,113.32 L257.03,113.92 L257.28,114.53 L257.54,115.15 L257.80,115.78 L258.05,116.42 L258.31,117.08 L258.57,117.75 L258.82,118.43 L259.08,119.13 L259.34,119.84 L259.59,120.57 L259.85,121.32 L260.11,122.08 L260.36,122.87 L260.62,123.67 L260.87,124.49 L261.13,125.34 L261.39,126.20 L261.64,127.09 L261.90,128.01 L262.16,128.95 L262.41,129.92 L262.67,130.92 L262.93,131.96 L263.18,133.02 L263.44,134.13 L263.70,135.27 L263.95,136.45 L264.21,137.68 L264.46,138.96 L264.72,140.29 L264.98,141.68 L265.23,143.13 L265.49,144.65 L265.75,146.24 L266.00,147.92 L266.26,149.68 L266.52,151.56 L266.77,153.54 L267.03,155.66 L267.29,157.93 L267.54,160.37 L267.80,163.01 L268.05,165.89 L268.31,169.06 L268.57,172.57 L268.82,176.51 L269.08,181.02 L269.34,186.26 L269.59,192.54 L271.05,237.50" fill="none" stroke="#0000ff" stroke-width="1.6" stroke-dasharray="4.72 4.72" stroke-dashoffset="0"/>
<path d="M271.05,237.50 L272.16,187.38 L272.41,182.02 L272.67,177.44 L272.93,173.45 L273.18,169.91 L273.44,166.72 L273.70,163.83 L273.95,161.19 L274.21,158.75 L274.47,156.48 L274.72,154.37 L274.98,152.40 L275.24,150.54 L275.49,148.79 L275.75,147.13 L276.00,145.56 L276.26,144.06 L276.52,142.63 L276.77,141.27 L277.03,139.96 L277.29,138.71 L277.54,137.50 L277.80,136.34 L278.06,135.23 L278.31,134.15 L278.57,133.11 L278.83,132.10 L279.08,131.13 L279.34,130.19 L279.59,129.27 L279.85,128.39 L280.11,127.52 L280.36,126.69 L280.62,125.87 L280.88,125.08 L281.13,124.31 L281.39,123.55 L281.65,122.82 L281.90,122.10 L282.16,121.40 L282.42,120.72 L282.67,120.05 L282.93,119.40 L283.18,118.76 L283.44,118.14 L283.70,117.52 L283.95,116.93 L284.21,116.34 L284.47,115.76 L284.72,115.20 L284.98,114.65 L285.24,114.11 L285.49,113.57 L285.75,113.05 L286.01,112.54 L286.26,112.03 L286.52,111.54 L286.78,111.05 L287.03,110.58 L287.29,110.11 L287.54,109.64 L287.80,109.19 L288.06,108.74 L288.31,108.30 L288.57,107.87 L288.83,107.44 L289.08,107.02 L289.34,106.61 L289.60,106.20 L289.85,105.80 L290.11,105.41 L290.37,105.02 L290.62,104.64 L290.88,104.26 L291.13,103.89 L291.39,103.52 L291.65,103.16 L291.90,102.80 L292.16,102.45 L292.42,102.10 L292.67,101.76 L292.93,101.42 L293.19,101.09 L293.44,100.76 L293.70,100.43 L293.96,100.11 L294.21,99.79 L294.47,99.48 L294.72,99.17 L294.98,98.87 L295.24,98.56 L295.49,98.27 L295.75,97.97 L296.01,97.68 L296.26,97.40 L296.52,97.11 L296.78,96.83 L297.03,96.55 L297.29,96.28 L297.55,96.01 L297.80,95.74 L298.06,95.48 L298.31,95.22 L298.57,94.96 L298.83,94.70 L299.08,94.45 L299.34,94.20 L299.60,93.96 L299.85,93.71 L300.11,93.47 L300.37,93.23 L300.62,93.00 L300.88,92.76 L301.14,92.53 L301.39,92.30 L301.65,92.08 L301.91,91.85 L302.16,91.63 L302.42,91.41 L302.67,91.20 L302.93,90.98 L303.19,90.77 L303.44,90.56 L303.70,90.35 L303.96,90.15 L304.21,89.94 L304.47,89.74 L304.73,89.54 L304.98,89.35 L305.24,89.15 L305.50,88.96 L305.75,88.77 L306.01,88.58 L306.26,88.39 L306.52,88.21 L306.78,88.02 L307.03,87.84 L307.29,87.66 L307.55,87.48 L307.80,87.31 L308.06,87.13 L308.32,86.96 L308.57,86.79 L308.83,86.62 L309.09,86.45 L309.34,86.29 L309.60,86.13 L309.85,85.96 L310.11,85.80 L310.37,85.64 L310.62,85.49 L310.88,85.33 L311.14,85.18 L311.39,85.02 L311.65,84.87 L311.91,84.72 L312.16,84.57 L312.42,84.43 L312.68,84.28 L312.93,84.14 L313.19,84.00 L313.44,83.86 L313.70,83.72 L313.96,83.58 L314.21,83.44 L314.47,83.31 L314.73,83.17 L314.98,83.04 L315.24,82.91 L315.50,82.78 L315.75,82.65 L316.01,82.52 L316.27,82.40 L316.52,82.27 L316.78,82.15 L317.04,82.03 L317.29,81.91 L317.55,81.79 L317.80,81.67 L318.06,81.55 L318.32,81.44 L318.57,81.32 L318.83,81.21 L319.09,81.10 L319.34,80.98 L319.60,80.87 L319.86,80.77 L320.11,80.66 L320.37,80.55 L320.63,80.45 L320.88,80.34 L321.14,80.24 L321.39,80.14 L321.65,80.04 L321.91,79.94 L322.16,79.84 L322.42,79.74 L322.68,79.65 L322.93,79.55 L323.19,79.46 L323.45,79.36 L323.70,79.27 L323.96,79.18 L324.22,79.09 L324.47,79.00 L324.73,78.92 L324.98,78.83 L325.24,78.74 L325.50,78.66 L325.75,78.57 L326.01,78.49 L326.27,78.41 L326.52,78.33 L326.78,78.25 L327.04,78.17 L327.29,78.09 L327.55,78.02 L327.81,77.94 L328.06,77.87 L328.32,77.79 L328.57,77.72 L328.83,77.65 L329.09,77.58 L329.34,77.51 L329.60,77.44 L329.86,77.37 L330.11,77.30 L330.37,77.24 L330.63,77.17 L330.88,77.11 L331.14,77.05 L331.40,76.98 L331.65,76.92 L331.91,76.86 L332.16,76.80 L332.42,76.74 L332.68,76.68 L332.93,76.63 L333.19,76.57 L333.45,76.52 L333.70,76.46 L333.96,76.41 L334.22,76.36 L334.47,76.30 L334.73,76.25 L334.99,76.20 L335.24,76.15 L335.50,76.10 L335.76,76.06 L336.01,76.01 L336.27,75.97 L336.52,75.92 L336.78,75.88 L337.04,75.83 L337.29,75.79 L337.55,75.75 L337.81,75.71 L338.06,75.67 L338.32,75.63 L338.58,75.59 L338.83,75.55 L339.09,75.52 L339.35,75.48 L339.60,75.45 L339.86,75.41 L340.11,75.38 L340.37,75.35 L340.63,75.32 L340.88,75.28 L341.14,75.25 L341.40,75.23 L341.65,75.20 L341.91,75.17 L342.17,75.14 L342.42,75.12 L342.68,75.09 L342.94,75.07 L343.19,75.04 L343.45,75.02 L343.70,75.00 L343.96,74.98 L344.22,74.96 L344.47,74.94 L344.73,74.92 L344.99,74.90 L345.24,74.88 L345.50,74.87 L345.76,74.85 L346.01,74.83" fill="none" stroke="#0000ff" stroke-width="1.6" stroke-dasharray="4.72 4.72" stroke-dashoffset="5.7"/>
<path d="M270.95,234.30 L271.05,237.50 L271.08,236.00" fill="none" stroke="#0000ff" stroke-width="1.6" stroke-linejoin="bevel"/>
<rect x="67.3" y="0.5" width="306.09999999999997" height="254.9" fill="none" stroke="#1c1c1c" stroke-width="0.85"/>
<rect x="76.7" y="182.8" width="150.14999999999998" height="64.5" fill="#fff" stroke="#1c1c1c" stroke-width="0.85"/>
<line x1="81.8" y1="195.6" x2="109" y2="195.6" stroke="#000" stroke-width="1.6" stroke-dasharray="4.7 3.1 0.75 3.1"/>
<line x1="81.8" y1="215.1" x2="109" y2="215.1" stroke="#ff0000" stroke-width="1.6"/>
<line x1="81.8" y1="234.45" x2="109" y2="234.45" stroke="#0000ff" stroke-width="1.6" stroke-dasharray="4.72 4.72"/>
<g font-family="'Liberation Serif', serif" font-size="15.6" fill="#000" stroke="#000" stroke-width="0.22" text-anchor="middle">
<text x="165.7" y="199.8">GS-CS</text>
<text x="165.7" y="219.3">SG-CS</text>
<text x="165.7" y="239.1">Modified SG-CS</text>
</g>
<g font-family="'Liberation Serif', serif" font-size="15.6" fill="#222" text-anchor="middle">
<text x="92.75" y="271.4">0</text>
<text x="135.60" y="271.4">0.5</text>
<text x="178.45" y="271.4">1</text>
<text x="221.00" y="271.4">1.5</text>
<text x="263.70" y="271.4">2</text>
<text x="306.50" y="271.4">2.5</text>
<text x="349.20" y="271.4">3</text>
</g>
<g font-family="'Liberation Serif', serif" font-size="15.6" fill="#222" text-anchor="end">
<text x="61.2" y="15.66">0</text>
<text x="61.2" y="95.15">5</text>
<line x1="42.50" y1="90.20" x2="52.20" y2="90.20" stroke="#2a2a2a" stroke-width="0.85"/>
<text x="61.2" y="174.35">10</text>
<line x1="34.70" y1="169.40" x2="44.40" y2="169.40" stroke="#2a2a2a" stroke-width="0.85"/>
<text x="61.2" y="252.95">15</text>
<line x1="34.70" y1="248.60" x2="44.40" y2="248.60" stroke="#2a2a2a" stroke-width="0.85"/>
</g>
<text transform="translate(220.95,291.7) scale(1.28,1)" x="0" y="0" font-family="'Liberation Serif', serif" font-style="italic" font-size="15.6" fill="#222" text-anchor="middle">n</text>
<line x1="215.8" y1="282.3" x2="224.8" y2="282.3" stroke="#111" stroke-width="0.7"/>
<g transform="translate(19.1,145.8) rotate(-90)" font-family="'Liberation Serif', serif" fill="#222">
<text x="0.4" y="0" font-size="16.3">ln</text>
<text transform="translate(16.0,0) scale(1.0,1)" x="0" y="0" font-size="17.0" font-style="italic">P</text>
<text transform="translate(27.2,3.1) scale(1.0,1)" x="0" y="0" font-size="11.3">H</text>
<text transform="translate(27.4,-6.8) scale(1.1,1)" x="0" y="0" font-size="11" font-weight="bold">h</text>
</g>
</g>
</svg>
</body></html>
